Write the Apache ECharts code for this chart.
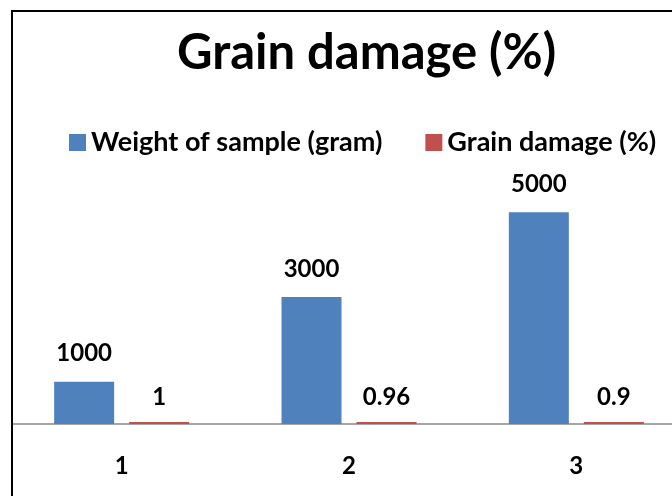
<!DOCTYPE html>
<html>
<head>
<meta charset="utf-8">
<script src="https://cdn.jsdelivr.net/npm/echarts@6/dist/echarts.min.js"></script>
<style>
  html, body { margin: 0; padding: 0; background: #fff; }
  #chart { width: 672px; height: 496px; }
</style>
</head>
<body>
<div id="chart"></div>
<script>
// data
const categories = ['1', '2', '3']
const sampleWeight = [1000, 3000, 5000]
const grainDamage = [1, 0.96, 0.9]

const colors = ['#4F81BD', '#C0504D']
const font = 'Lato, "Open Sans", sans-serif'

const chart = echarts.init(document.getElementById('chart'))

chart.setOption({
  animation: false,
  color: colors,
  title: {
    text: 'Grain damage (%)',
    left: 172,
    top: 24,
    textStyle: { fontFamily: font, fontWeight: 'bold', fontSize: 49, color: '#000' },
  },
  legend: {
    left: 64,
    top: 124,
    icon: 'rect',
    itemWidth: 17,
    itemHeight: 17,
    itemGap: 43,
    textStyle: { fontFamily: font, fontWeight: 'bold', fontSize: 27, color: '#000' },
  },
  grid: {
    left: 8,
    right: -18,
    top: 170,
    bottom: 72,
    containLabel: false,
    outerBoundsMode: 'none',
  },
  xAxis: {
    type: 'category',
    data: categories,
    axisLine: { lineStyle: { color: '#A6A6A6', width: 2 } },
    axisTick: { show: false },
    axisLabel: { margin: 30, color: '#000', fontFamily: font, fontWeight: 'bold', fontSize: 24 },
  },
  yAxis: {
    type: 'value',
    min: 0,
    max: 6000,
    show: false,
  },
  series: [
    {
      name: 'Weight of sample (gram)',
      type: 'bar',
      data: sampleWeight,
      barWidth: 60,
      barGap: '25%',
      label: {
        show: true,
        position: 'top',
        distance: 16,
        color: '#000',
        fontFamily: font,
        fontWeight: 'bold',
        fontSize: 24,
      },
    },
    {
      name: 'Grain damage (%)',
      type: 'bar',
      data: grainDamage,
      barWidth: 60,
      barMinHeight: 2,
      label: {
        show: true,
        position: 'top',
        distance: 13,
        color: '#000',
        fontFamily: font,
        fontWeight: 'bold',
        fontSize: 24,
      },
    },
  ],
  graphic: [
    // white strip hides the axis line left of the frame
    { type: 'rect', z: 100, shape: { x: 0, y: 0, width: 13, height: 496 }, style: { fill: '#fff' } },
    { type: 'rect', z: 101, shape: { x: 12, y: 11, width: 700, height: 600 }, style: { fill: 'none', stroke: '#000', lineWidth: 2 } },
  ],
})
</script>
</body>
</html>
